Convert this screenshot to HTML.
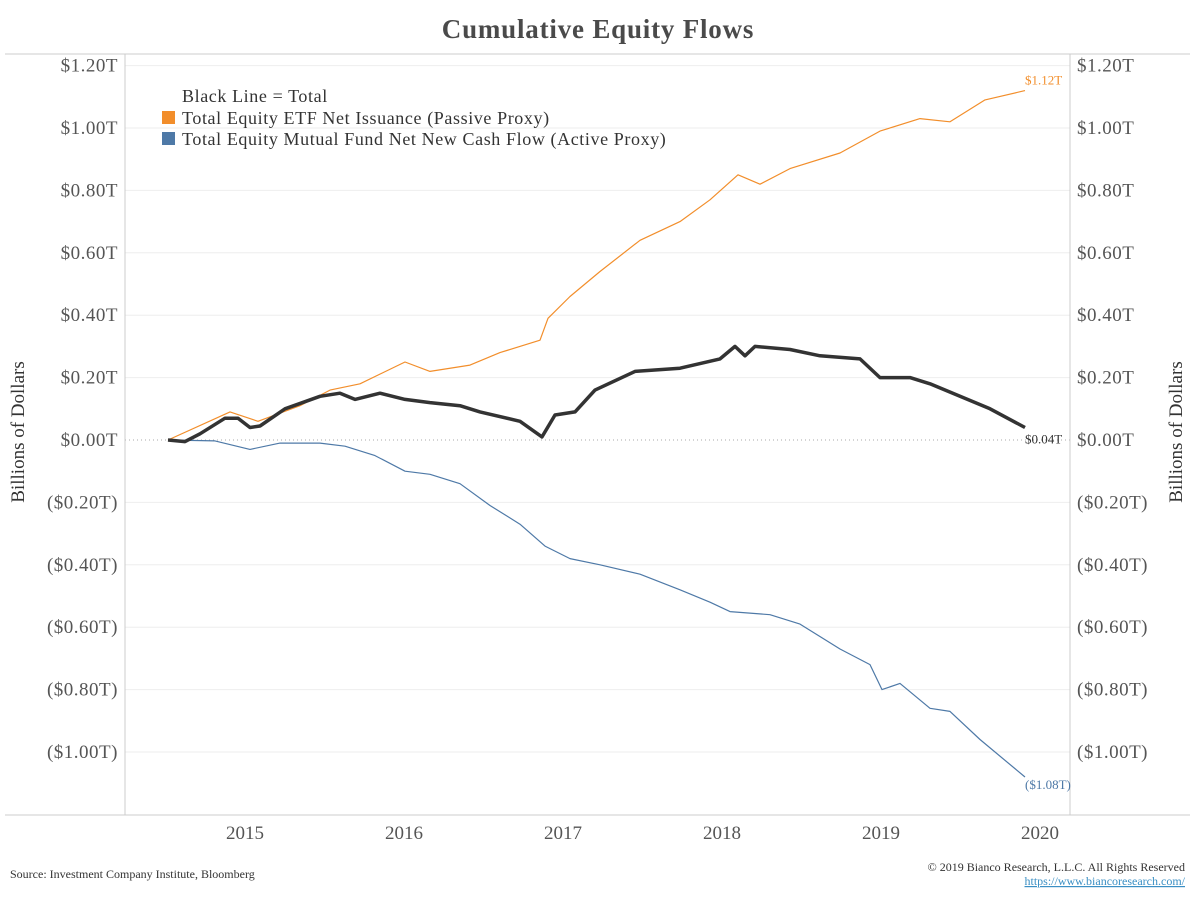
<!DOCTYPE html>
<html><head><meta charset="utf-8"><style>
body{margin:0;background:#fff;font-family:"Liberation Serif",serif;}
svg text{font-family:"Liberation Serif",serif;}
</style></head><body>
<svg id="c" width="1200" height="900">
<text x="598" y="38" text-anchor="middle" font-size="27" font-weight="bold" fill="#4a4a4a" letter-spacing="0.8">Cumulative Equity Flows</text>
<line x1="5" y1="54" x2="1190" y2="54" stroke="#ccc"/>
<g id="grid"></g>
<line x1="125" y1="54" x2="125" y2="815" stroke="#ccc"/>
<line x1="1070" y1="54" x2="1070" y2="815" stroke="#ccc"/>
<line x1="5" y1="815" x2="1190" y2="815" stroke="#ccc"/>
<g id="series"></g>
<text x="24" y="432" font-size="19" fill="#333" transform="rotate(-90 24 432)" text-anchor="middle">Billions of Dollars</text>
<text x="1182" y="432" font-size="19" fill="#333" transform="rotate(-90 1182 432)" text-anchor="middle">Billions of Dollars</text>
<g>
<text x="182" y="102" font-size="18" fill="#333" letter-spacing="0.6">Black Line = Total</text>
<rect x="162" y="111" width="13" height="13" fill="#f28e2b"/>
<text x="182" y="124" font-size="18" fill="#333" letter-spacing="0.6">Total Equity ETF Net Issuance (Passive Proxy)</text>
<rect x="162" y="132" width="13" height="13" fill="#4e79a7"/>
<text x="182" y="145" font-size="18" fill="#333" letter-spacing="0.6">Total Equity Mutual Fund Net New Cash Flow (Active Proxy)</text>
</g>
<text x="10" y="878" font-size="12" fill="#333">Source: Investment Company Institute, Bloomberg</text>
<text x="1185" y="871" font-size="12" fill="#333" text-anchor="end">© 2019 Bianco Research, L.L.C. All Rights Reserved</text>
<text x="1185" y="885" font-size="12" fill="#3a8fc4" text-anchor="end" text-decoration="underline">https://www.biancoresearch.com/</text>
</svg>
<script>
const yTicks=[1.2,1.0,0.8,0.6,0.4,0.2,0,-0.2,-0.4,-0.6,-0.8,-1.0];
const yLabels=["$1.20T","$1.00T","$0.80T","$0.60T","$0.40T","$0.20T","$0.00T","($0.20T)","($0.40T)","($0.60T)","($0.80T)","($1.00T)"];
const xTicks=[2015,2016,2017,2018,2019,2020];
const etfX=[168,230,258,300,330,360,405,430,470,500,540,548,570,600,640,680,710,738,760,790,840,880,920,950,985,1025];
const etfV=[0,0.09,0.06,0.11,0.16,0.18,0.25,0.22,0.24,0.28,0.32,0.39,0.46,0.54,0.64,0.70,0.77,0.85,0.82,0.87,0.92,0.99,1.03,1.02,1.09,1.12];
const totX=[168,185,200,225,238,250,260,285,320,340,355,380,405,430,460,480,520,542,555,575,595,635,680,720,735,745,755,790,820,860,880,910,930,960,990,1025];
const totV=[0,-0.005,0.02,0.07,0.07,0.04,0.045,0.10,0.14,0.15,0.13,0.15,0.13,0.12,0.11,0.09,0.06,0.01,0.08,0.09,0.16,0.22,0.23,0.26,0.30,0.27,0.30,0.29,0.27,0.26,0.20,0.20,0.18,0.14,0.10,0.04];
const mfX=[168,215,250,280,320,345,375,405,430,460,490,520,545,570,600,640,680,710,730,770,800,840,870,882,900,930,950,980,1025];
const mfV=[0,-0.003,-0.03,-0.01,-0.01,-0.02,-0.05,-0.10,-0.11,-0.14,-0.21,-0.27,-0.34,-0.38,-0.40,-0.43,-0.48,-0.52,-0.55,-0.56,-0.59,-0.67,-0.72,-0.80,-0.78,-0.86,-0.87,-0.96,-1.08];
const NS="http://www.w3.org/2000/svg";
const yS=v=>440-312*v;
const yearToX=y=>245+(y-2015)*159;
const pxToYear=p=>2015+(p-245)/159;
function el(t,a,p){const e=document.createElementNS(NS,t);for(const k in a)e.setAttribute(k,a[k]);p.appendChild(e);return e;}
const grid=document.getElementById('grid');
yTicks.forEach((v,i)=>{
  const y=yS(v);
  const gl=el('line',{x1:125,x2:1070,y1:y,y2:y,stroke:v===0?'#aaa':'#eee','stroke-dasharray':v===0?'1,3':'none'},grid);
  
  
  const l=el('text',{x:118,y:y+6,'text-anchor':'end','font-size':19,fill:'#555','letter-spacing':0.5},grid);l.textContent=yLabels[i];
  
  
  const r=el('text',{x:1077,y:y+6,'font-size':19,fill:'#555','letter-spacing':0.5},grid);r.textContent=yLabels[i];
  
  
});
xTicks.forEach(t=>{
  const x=el('text',{x:yearToX(t),y:839,'text-anchor':'middle','font-size':19,fill:'#555'},grid);x.textContent=t;
  
  
});
const S=document.getElementById('series');
function line(xs,vs,c,w,name){
  const d=xs.map((p,i)=>(i?'L':'M')+yearToX(pxToYear(p)).toFixed(1)+','+yS(vs[i]).toFixed(1)).join('');
  const p=el('path',{d:d,fill:'none',stroke:c,'stroke-width':w,'stroke-linejoin':'round'},S);
  
  
}
line(mfX,mfV,'#4e79a7',1.2,'mutual-fund-line');
line(etfX,etfV,'#f28e2b',1.2,'etf-line');
line(totX,totV,'#333',3.5,'total-line');
function lab(xs,vs,c,txt,dy,name){
  const n=xs.length-1;
  const t=el('text',{x:yearToX(pxToYear(xs[n])),y:yS(vs[n])+dy,'font-size':13,fill:c},S);t.textContent=txt;
  
  
}
lab(etfX,etfV,'#f28e2b','$1.12T',-6,'etf-end-label');
lab(totX,totV,'#333','$0.04T',16,'total-end-label');
lab(mfX,mfV,'#4e79a7','($1.08T)',12,'mutual-fund-end-label');
</script>
</body></html>
